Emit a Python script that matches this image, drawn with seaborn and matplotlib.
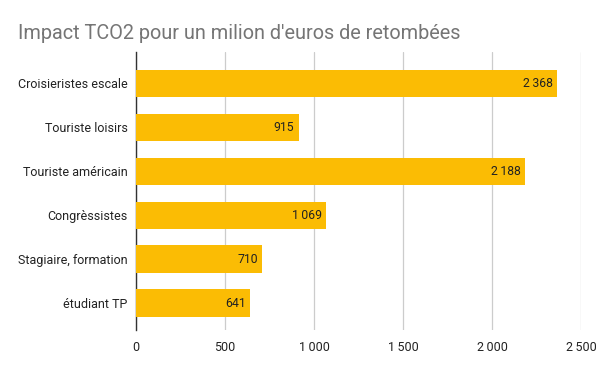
import seaborn as sns
from matplotlib import pyplot as plt
import pandas as pd

categories = ["Croisieristes escale", "Touriste loisirs", "Touriste américain",
              "Congrèssistes", "Stagiaire, formation", "étudiant TP"]
values = [2368, 915, 2188, 1069, 710, 641]
x_ticks = [0, 500, 1000, 1500, 2000, 2500]


def fmt(v):
    return f"{v:,}".replace(",", "\u202f")


sns.set_style("white")
plt.rcParams['font.family'] = ['Roboto', 'DejaVu Sans']

data_set = pd.DataFrame({"cat": categories, "val": values})

fig = plt.figure(figsize=(6, 3.71), dpi=100)
ax = fig.add_axes([0.2267, 0.1105, 0.7416, 0.7495])

sns.barplot(data=data_set, y="cat", x="val", color="#FBBC04", saturation=1,
            width=0.62, linewidth=0, ax=ax, zorder=3)

for i, v in enumerate(values):
    ax.text(v - 25, i, fmt(v), ha="right", va="center", fontsize=8.8,
            color="#222222", zorder=4)

ax.set_xlim(0, 2500)
ax.set_ylim(5.614, -0.716)
ax.set_xticks(x_ticks)
ax.set_xticklabels([fmt(t) for t in x_ticks])
ax.grid(axis="x", color="#cccccc", linewidth=0.9, zorder=0)
ax.set_xlabel("")
ax.set_ylabel("")
ax.tick_params(axis="both", length=0, labelsize=9.0, labelcolor="#222222")
ax.tick_params(axis="y", pad=6)
ax.tick_params(axis="x", pad=8)
for s in ["top", "right", "bottom"]:
    ax.spines[s].set_visible(False)
ax.spines["left"].set_color("#333333")
ax.spines["left"].set_linewidth(1)

fig.text(0.03, 0.91, "Impact TCO2 pour un milion d'euros de retombées",
         fontsize=14.3, color="#757575", ha="left", va="center")

fig.savefig("out.png", dpi=100)
